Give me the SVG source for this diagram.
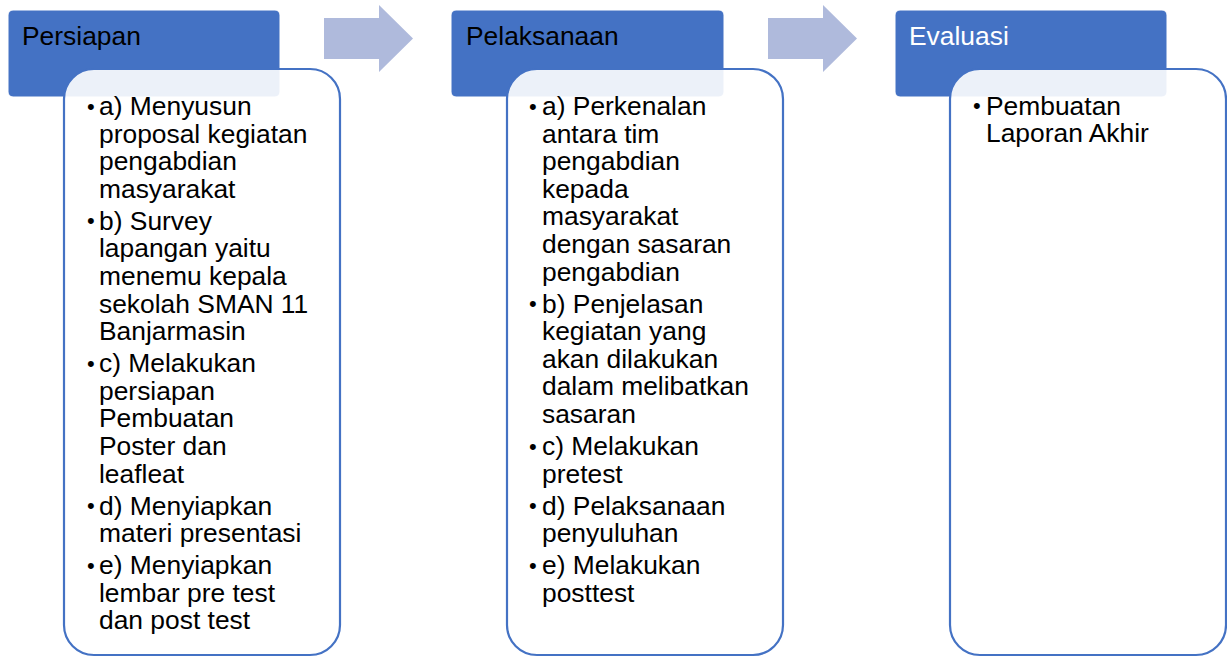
<svg xmlns="http://www.w3.org/2000/svg" width="1227" height="657" viewBox="0 0 1227 657">
<style>
.hdr{fill:#4472C4;stroke:#FFFFFF;stroke-width:1}
.box{fill:#FFFFFF;fill-opacity:0.9;stroke:#4472C4;stroke-width:2.2}
.arr{fill:#AFBADC}
text{font-family:"Liberation Sans",Arial,sans-serif;font-size:26.4px;fill:#000000}
text.b{font-size:22px}
.ht{fill:#000000}
.htw{fill:#FFFFFF}
</style>
<rect width="1227" height="657" fill="#FFFFFF"/>
<g id="connectors">
<polygon class="arr" points="324,18 379,18 379,5 413,38.5 379,72 379,59 324,59"/>
<polygon class="arr" points="768,18 823,18 823,5 857,38.5 823,72 823,59 768,59"/>
</g>
<g id="node-persiapan">
<rect class="hdr" x="8" y="10" width="272" height="87" rx="5"/>
<text class="ht" x="22" y="45">Persiapan</text>
<rect class="box" x="64" y="69" width="276" height="586" rx="30"/>
<text class="b" x="87" y="113.5">•</text><text x="99" y="115">a) Menyusun</text>
<text x="99" y="142.6">proposal kegiatan</text>
<text x="99" y="170.2">pengabdian</text>
<text x="99" y="197.8">masyarakat</text>
<text class="b" x="87" y="228.3">•</text><text x="99" y="229.8">b) Survey</text>
<text x="99" y="257.4">lapangan yaitu</text>
<text x="99" y="285">menemu kepala</text>
<text x="99" y="312.6">sekolah SMAN 11</text>
<text x="99" y="340.2">Banjarmasin</text>
<text class="b" x="87" y="370.7">•</text><text x="99" y="372.2">c) Melakukan</text>
<text x="99" y="399.8">persiapan</text>
<text x="99" y="427.4">Pembuatan</text>
<text x="99" y="455">Poster dan</text>
<text x="99" y="482.6">leafleat</text>
<text class="b" x="87" y="513.1">•</text><text x="99" y="514.6">d) Menyiapkan</text>
<text x="99" y="542.2">materi presentasi</text>
<text class="b" x="87" y="572.7">•</text><text x="99" y="574.2">e) Menyiapkan</text>
<text x="99" y="601.8">lembar pre test</text>
<text x="99" y="629.4">dan post test</text>
</g>
<g id="node-pelaksanaan">
<rect class="hdr" x="451" y="10" width="273" height="87" rx="5"/>
<text class="ht" x="466" y="45">Pelaksanaan</text>
<rect class="box" x="507" y="69" width="276" height="586" rx="30"/>
<text class="b" x="529" y="113.5">•</text><text x="542" y="115">a) Perkenalan</text>
<text x="542" y="142.6">antara tim</text>
<text x="542" y="170.2">pengabdian</text>
<text x="542" y="197.8">kepada</text>
<text x="542" y="225.4">masyarakat</text>
<text x="542" y="253">dengan sasaran</text>
<text x="542" y="280.6">pengabdian</text>
<text class="b" x="529" y="311.1">•</text><text x="542" y="312.6">b) Penjelasan</text>
<text x="542" y="340.2">kegiatan yang</text>
<text x="542" y="367.8">akan dilakukan</text>
<text x="542" y="395.4">dalam melibatkan</text>
<text x="542" y="423">sasaran</text>
<text class="b" x="529" y="453.5">•</text><text x="542" y="455">c) Melakukan</text>
<text x="542" y="482.6">pretest</text>
<text class="b" x="529" y="513.1">•</text><text x="542" y="514.6">d) Pelaksanaan</text>
<text x="542" y="542.2">penyuluhan</text>
<text class="b" x="529" y="572.7">•</text><text x="542" y="574.2">e) Melakukan</text>
<text x="542" y="601.8">posttest</text>
</g>
<g id="node-evaluasi">
<rect class="hdr" x="895" y="10" width="272" height="87" rx="5"/>
<text class="htw" x="909" y="45">Evaluasi</text>
<rect class="box" x="950" y="69" width="276" height="586" rx="30"/>
<text class="b" x="973" y="113">•</text><text x="986" y="114.5">Pembuatan</text>
<text x="986" y="142.1">Laporan Akhir</text>
</g>
</svg>
